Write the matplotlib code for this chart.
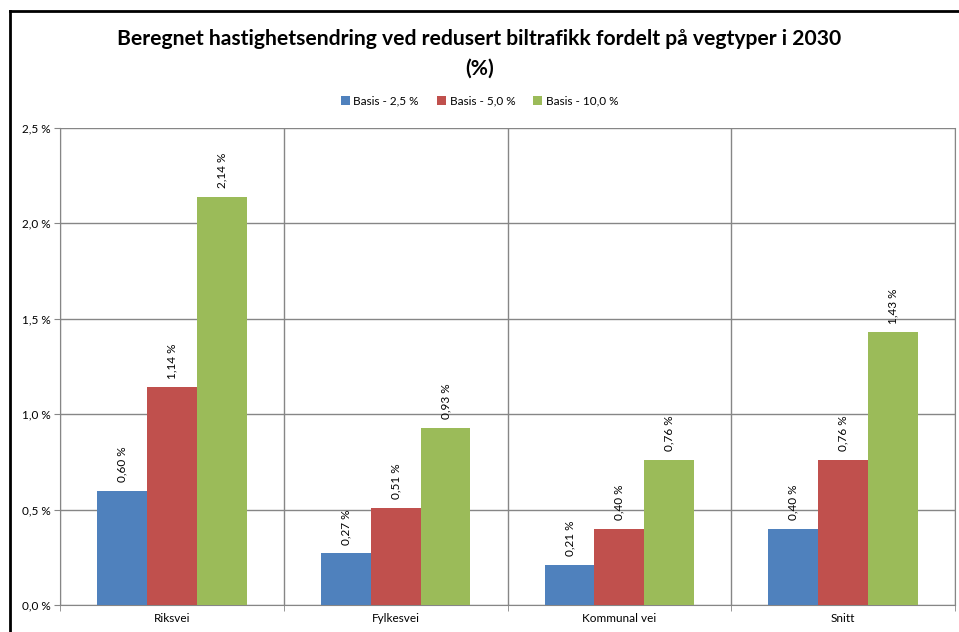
import numpy as np
import matplotlib.pyplot as plt
from matplotlib.lines import Line2D

plt.rcParams['font.family'] = ['Lato', 'DejaVu Sans']

categories = ['Riksvei', 'Fylkesvei', 'Kommunal vei', 'Snitt']
series_names = ['Basis - 2,5 %', 'Basis - 5,0 %', 'Basis - 10,0 %']
basis_25 = [0.60, 0.27, 0.21, 0.40]
basis_50 = [1.14, 0.51, 0.40, 0.76]
basis_100 = [2.14, 0.93, 0.76, 1.43]
y_ticks = [0.0, 0.5, 1.0, 1.5, 2.0, 2.5]
colors = ['#4f81bd', '#c0504d', '#9bbb59']

fig = plt.figure(figsize=(9.59, 6.32), dpi=100)
ax = fig.add_axes([60 / 959, 27 / 632, 895 / 959, 477 / 632])

x = np.arange(len(categories))
w = 0.223
for i, (vals, name, c) in enumerate(zip([basis_25, basis_50, basis_100], series_names, colors)):
    pos = x + (i - 1) * w
    ax.bar(pos, vals, width=w, color=c, label=name, zorder=3)
    for p, v in zip(pos, vals):
        ax.text(p, v + 0.045, f'{v:.2f} %'.replace('.', ','), rotation=90,
                ha='center', va='bottom', fontsize=8.5, zorder=4)

ax.set_xlim(-0.5, len(categories) - 0.5)
ax.set_ylim(0, 2.5)
ax.set_yticks(y_ticks)
ax.set_yticklabels([f'{t:.1f} %'.replace('.', ',') for t in y_ticks], fontsize=8.5)
ax.set_xticks(x)
ax.set_xticklabels(categories, fontsize=8.5)
ax.tick_params(axis='x', length=0, pad=6)
ax.tick_params(axis='y', length=4, color='#868686', pad=3)
ax.set_xticks(np.arange(len(categories) + 1) - 0.5, minor=True)
ax.tick_params(axis='x', which='minor', length=4, color='#868686')
ax.grid(axis='y', color='#868686', linewidth=1, zorder=0)
ax.grid(axis='x', which='minor', color='#868686', linewidth=1, zorder=0)
for s in ax.spines.values():
    s.set_color('#868686')
ax.spines['top'].set_visible(False)

fig.text(0.5, 1 - 39 / 632, 'Beregnet hastighetsendring ved redusert biltrafikk fordelt på vegtyper i 2030',
         ha='center', va='center', fontsize=15.2, fontweight='bold')
fig.text(0.5, 1 - 69 / 632, '(%)', ha='center', va='center', fontsize=15.2, fontweight='bold')

fig.legend(loc='center', bbox_to_anchor=(0.5, 1 - 101 / 632), ncol=3, frameon=False,
           fontsize=8.5, handlelength=0.8, handleheight=0.8, handletextpad=0.3, columnspacing=1.5)

# outer frame (left and top only visible)
fig.add_artist(Line2D([10 / 959, 10 / 959], [0, 1 - 11 / 632], transform=fig.transFigure,
                      color='black', linewidth=2))
fig.add_artist(Line2D([10 / 959, 1], [1 - 11 / 632, 1 - 11 / 632], transform=fig.transFigure,
                      color='black', linewidth=2))

fig.savefig('out.png', dpi=100)
